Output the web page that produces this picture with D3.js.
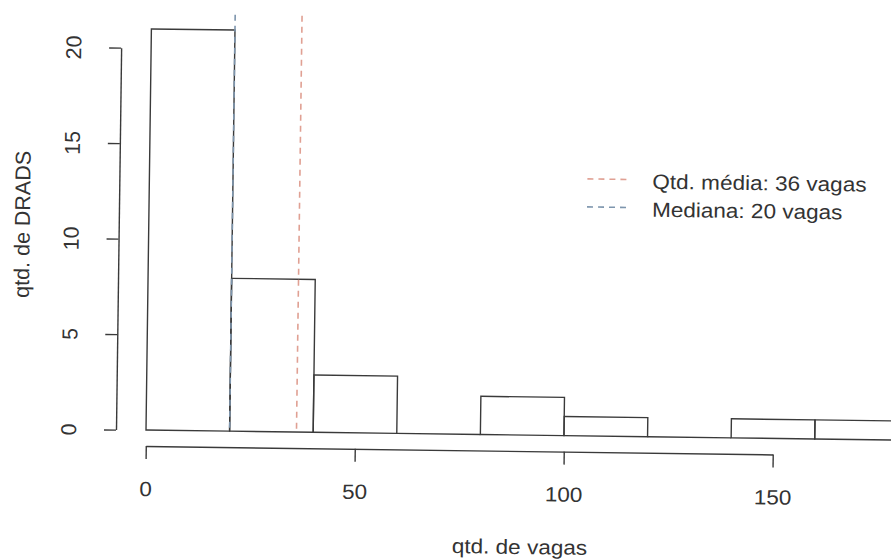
<!DOCTYPE html>
<html>
<head>
<meta charset="utf-8">
<script src="https://cdn.jsdelivr.net/npm/d3@7"></script>
<style>
  html, body { margin: 0; padding: 0; background: #fff; }
  svg { display: block; }
  text { font-family: "Liberation Sans", Arial, Helvetica, sans-serif; fill: #333; }
</style>
</head>
<body>
<svg id="chart" width="891" height="560"></svg>
<script>
// Histogram of vacancies per DRADS
const binEdges = [0, 20, 40, 60, 80, 100, 120, 140, 160, 180];
const binCounts = [21, 8, 3, 0, 2, 1, 0, 1, 1];
const xTickValues = [0, 50, 100, 150];
const yTickValues = [0, 5, 10, 15, 20];
const meanVagas = 36;
const medianVagas = 20;
const legendLabels = ["Qtd. média: 36 vagas", "Mediana: 20 vagas"];
const legendColors = ["#e0a093", "#7d95ad"];
const xTitle = "qtd. de vagas";
const yTitle = "qtd. de DRADS";

const FONT = "'Liberation Sans', Arial, Helvetica, sans-serif";
const svg = d3.select("#chart");
const g = svg.append("g").attr("transform", "rotate(0.77,146,430)");

const x = d3.scaleLinear().domain([0, 180]).range([146, 898.4]);
const y = d3.scaleLinear().domain([0, 20]).range([430, 48]);

const bins = binCounts.map((c, i) => ({ x0: binEdges[i], x1: binEdges[i + 1], count: c }));

// bars (drawn as closed paths so empty bins still show on the baseline)
g.append("g").selectAll("path").data(bins).join("path")
  .attr("d", d => {
    const p = d3.path();
    p.moveTo(x(d.x0), y(0));
    p.lineTo(x(d.x0), y(d.count));
    p.lineTo(x(d.x1), y(d.count));
    p.lineTo(x(d.x1), y(0));
    p.closePath();
    return p.toString();
  })
  .attr("fill", "none")
  .attr("stroke", "#3a3a3a")
  .attr("stroke-width", 1.4);

// reference lines: mean and median
const refLines = [
  { v: meanVagas, color: legendColors[0] },
  { v: medianVagas, color: legendColors[1] }
];
g.append("g").selectAll("line").data(refLines).join("line")
  .attr("x1", d => x(d.v)).attr("x2", d => x(d.v))
  .attr("y1", y(21.8)).attr("y2", y(0))
  .attr("stroke", d => d.color)
  .attr("stroke-width", 1.6)
  .attr("stroke-dasharray", "6,5");

// x axis, spanning first to last tick
const xAxisScale = d3.scaleLinear()
  .domain([xTickValues[0], xTickValues[xTickValues.length - 1]])
  .range([x(xTickValues[0]), x(xTickValues[xTickValues.length - 1])]);
const xAxis = g.append("g").attr("transform", "translate(0,446)")
  .call(d3.axisBottom(xAxisScale).tickValues(xTickValues).tickSize(13).tickSizeOuter(0));
xAxis.selectAll("path, line").attr("stroke", "#3a3a3a").attr("stroke-width", 1.4);
xAxis.selectAll(".tick text")
  .attr("y", null).attr("dy", null)
  .attr("transform", "translate(0,50) scale(1.1,1)")
  .attr("font-size", 20.5).attr("fill", "#333")
  .style("font-family", FONT);

// y axis
const yAxis = g.append("g").attr("transform", "translate(116,0)")
  .call(d3.axisLeft(y).tickValues(yTickValues).tickSize(12).tickSizeOuter(0));
yAxis.selectAll("path, line").attr("stroke", "#3a3a3a").attr("stroke-width", 1.4);
yAxis.selectAll(".tick text")
  .attr("x", null).attr("dy", null)
  .attr("text-anchor", "middle")
  .attr("transform", "translate(-40,0) rotate(-90)")
  .attr("font-size", 21.5).attr("fill", "#333")
  .style("font-family", FONT);

// axis titles
g.append("text")
  .attr("transform", "translate(521,549) scale(1.1,1)")
  .attr("text-anchor", "middle").attr("font-size", 20.5)
  .text(xTitle);
g.append("text")
  .attr("transform", "translate(27,226) rotate(-90)")
  .attr("text-anchor", "middle").attr("font-size", 21.5)
  .text(yTitle);

// legend
const legend = g.append("g");
legendLabels.forEach((label, i) => {
  const ly = 173 + i * 28;
  legend.append("line")
    .attr("x1", 584).attr("x2", 627).attr("y1", ly).attr("y2", ly)
    .attr("stroke", legendColors[i]).attr("stroke-width", 1.6)
    .attr("stroke-dasharray", "6,5");
  legend.append("text")
    .attr("transform", `translate(649,${ly + 9}) scale(1.1,1)`)
    .attr("font-size", 20.5)
    .text(label);
});
</script>
</body>
</html>
